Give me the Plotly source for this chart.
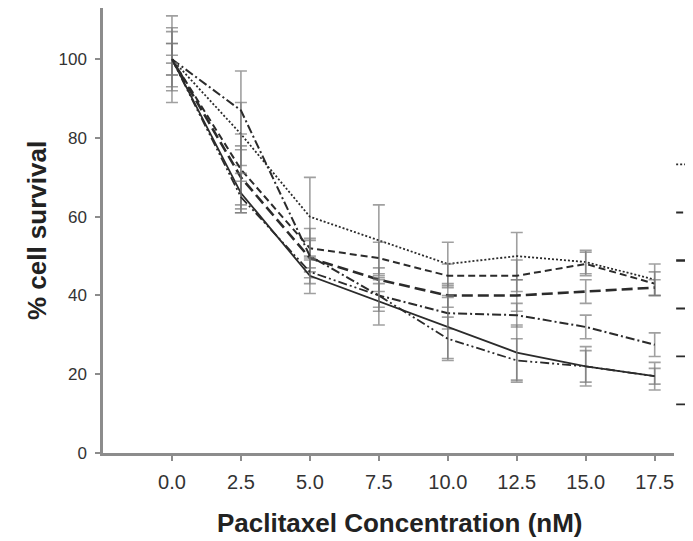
import plotly.graph_objects as go

conc = [0.0, 2.5, 5.0, 7.5, 10.0, 12.5, 15.0, 17.5]
y_ticks = [0, 20, 40, 60, 80, 100]

names = ["Series 1", "Series 2", "Series 3", "Series 4", "Series 5", "Series 6"]

s_dotted = [100, 81, 60, 54, 48, 50, 48.5, 44]
s_dashed = [100, 72, 52, 49.5, 45, 45, 48, 43]
s_longdash = [100, 70, 49.5, 44, 40, 40, 41, 42]
s_dashdot = [100, 87, 50, 40, 35.5, 35, 32, 27.5]
s_solid = [100, 66, 45, 38.5, 32, 25.5, 22, 19.5]
s_dashdotdot = [100, 65, 46, 40, 29, 23.5, 22, 19.5]

e_dotted = [11, 8, 10, 9, 5.5, 6, 3, 4]
e_dashed = [4, 9, 5, 4, 3, 4, 3, 3]
e_longdash = [8, 8, 5, 3, 3, 4, 3, 2]
e_dashdot = [7, 10, 4, 3, 4, 3, 3, 3]
e_solid = [4, 5, 4.5, 6, 8, 7, 4, 2]
e_dashdotdot = [1, 4, 3, 4, 5.5, 5.5, 5, 3.5]

series = [s_dotted, s_dashed, s_longdash, s_dashdot, s_solid, s_dashdotdot]
errors = [e_dotted, e_dashed, e_longdash, e_dashdot, e_solid, e_dashdotdot]
dashes = ["2px,2px", "7px,4px", "11px,5px", "9px,3px,2px,3px", "solid", "9px,3px,2px,3px,2px,3px"]
widths = [1.8, 2.0, 2.6, 2.0, 1.8, 1.8]

fig = go.Figure()
for i in range(6):
    fig.add_trace(go.Scatter(
        x=conc, y=series[i], name=names[i], mode="lines",
        line=dict(color="#2b2b2b", width=widths[i], dash=dashes[i]),
        error_y=dict(type="data", array=errors[i], visible=True,
                     color="rgba(120,120,120,0.7)", thickness=1.6, width=6),
        legendgroup="g%d" % i,
    ))

fig.update_layout(
    width=700, height=533,
    paper_bgcolor="white", plot_bgcolor="white",
    margin=dict(l=95, r=34, t=0, b=88, autoexpand=False),
    font=dict(family="Liberation Sans, Arial, sans-serif", color="#333333"),
    showlegend=True,
    legend=dict(x=0.995, xanchor="left", y=0.681, yanchor="top",
                tracegroupgap=29, font=dict(size=12),
                bgcolor="rgba(0,0,0,0)"),
    annotations=[dict(text="<b>Paclitaxel Concentration (nM)</b>",
                      xref="paper", yref="paper", x=0.52, y=-0.157,
                      xanchor="center", yanchor="middle", showarrow=False,
                      font=dict(size=26, color="#222222"))],
    xaxis=dict(range=[-2.5, 18.2], tickvals=conc, tickformat=".1f",
               showgrid=False, zeroline=False,
               showline=True, linecolor="#8c8c8c", linewidth=2.5,
               ticks="outside", ticklen=5, tickwidth=2, tickcolor="#8c8c8c",
               tickfont=dict(size=20, color="#333333"),
               ticklabelstandoff=4),
    yaxis=dict(range=[0, 113], tickvals=y_ticks,
               showgrid=False, zeroline=False,
               showline=True, linecolor="#8c8c8c", linewidth=2.5,
               ticks="outside", ticklen=5, tickwidth=2, tickcolor="#8c8c8c",
               tickfont=dict(size=17, color="#333333"),
               ticklabelstandoff=5,
               title=dict(text="<b>% cell survival</b>",
                          font=dict(size=26, color="#222222"), standoff=5)),
)

fig.write_html("out.html")
